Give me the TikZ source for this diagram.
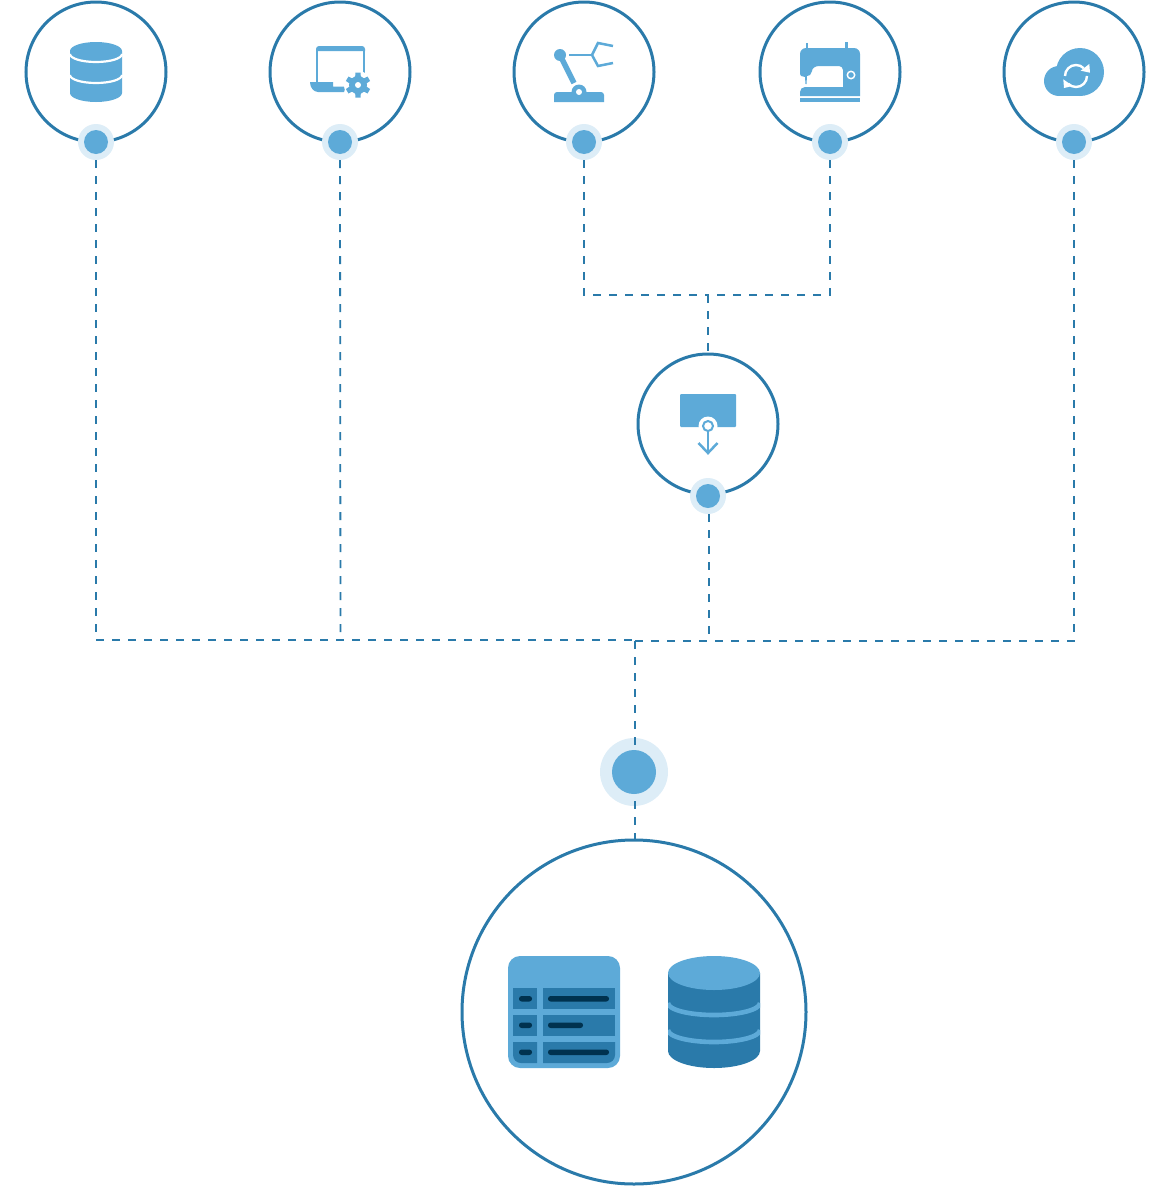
\documentclass[tikz,border=0pt]{standalone}
\usepackage{tikz}
\usetikzlibrary{calc}
\definecolor{RingBlue}{HTML}{2A7AAA}
\definecolor{IconBlue}{HTML}{5DAAD8}
\definecolor{HaloBlue}{HTML}{DDEDF7}
\definecolor{PillNavy}{HTML}{00324F}
\tikzset{
  ring/.style={circle,draw=RingBlue,line width=3pt,fill=white,minimum size=140pt,inner sep=0pt},
  bigRing/.style={ring,minimum size=344pt},
  halo/.style={circle,fill=HaloBlue,minimum size=36pt,inner sep=0pt},
  dot/.style={circle,fill=IconBlue,minimum size=24pt,inner sep=0pt},
  bigHalo/.style={halo,minimum size=68pt},
  bigDot/.style={dot,minimum size=44pt},
  link/.style={draw=RingBlue,line width=1.8pt,dash pattern=on 8pt off 8pt},
  iconFill/.style={fill=IconBlue},
  iconLine/.style={draw=IconBlue,line width=2.5pt},
  iconCut/.style={draw=white,line width=2.2pt}
}
\begin{document}
\begin{tikzpicture}[x=1pt,y=-1pt]
  \useasboundingbox (0,0) rectangle (1170,1186);
  \node[ring] (store) at (96,72) {};
  \node[ring] (laptop) at (340,72) {};
  \node[ring] (robot) at (584,72) {};
  \node[ring] (sewing) at (830,72) {};
  \node[ring] (cloud) at (1074,72) {};
  \node[ring] (hoist) at (708,424) {};
  \node[bigRing] (central) at (634,1012) {};
  \node[halo] (storeHalo) at (96,142) {};
  \node[halo] (laptopHalo) at (340,142) {};
  \node[halo] (robotHalo) at (584,142) {};
  \node[halo] (sewingHalo) at (830,142) {};
  \node[halo] (cloudHalo) at (1074,142) {};
  \node[halo] (hoistHalo) at (708,496) {};
  \node[bigHalo] (centralHalo) at (634,772) {};
  \coordinate (leftBus) at (96,640);
  \coordinate (laptopBus) at (340.5,640);
  \coordinate (mergeTop) at (708,295);
  \coordinate (busMid) at (635,640);
  \coordinate (busMidR) at (635,641);
  \coordinate (hoistBus) at (709,641);
  \coordinate (rightBus) at (1074,641);
  % two upper machines join above the hoist
  \draw[link] (robotHalo.south) |- (mergeTop);
  \draw[link] (sewingHalo.south) |- (mergeTop);
  \draw[link] (mergeTop) -- (hoist.north);
  % everything else runs down to the bus
  \draw[link] (storeHalo.south) -- (leftBus) -- (busMid);
  \draw[link] (laptopHalo.south) -- (laptopBus);
  \draw[link] (hoistHalo.south-|hoistBus) -- (hoistBus);
  \draw[link] (cloudHalo.south) -- (rightBus) -- (busMidR);
  \draw[link] (busMidR) -- (central.north-|busMidR);
  \node[dot] (storeDot) at (storeHalo) {};
  \node[dot] (laptopDot) at (laptopHalo) {};
  \node[dot] (robotDot) at (robotHalo) {};
  \node[dot] (sewingDot) at (sewingHalo) {};
  \node[dot] (cloudDot) at (cloudHalo) {};
  \node[dot] (hoistDot) at (hoistHalo) {};
  \node[bigDot] (centralDot) at (centralHalo) {};
  % database
  \fill[iconFill] (70,51) -- (70,93) arc[start angle=180,end angle=360,x radius=26pt,y radius=9pt] -- (122,51) arc[start angle=0,end angle=180,x radius=26pt,y radius=9pt] -- cycle;
  \draw[iconCut] (70,54) arc[start angle=180,end angle=360,x radius=26pt,y radius=8pt];
  \draw[iconCut] (70,75) arc[start angle=180,end angle=360,x radius=26pt,y radius=8pt];
  % laptop and gear
  \fill[iconFill] (316,51) -- (316,49) arc[start angle=180,end angle=90,radius=3pt] -- (362,46) arc[start angle=90,end angle=0,radius=3pt] -- (365,51) -- cycle;
  \draw[draw=IconBlue,line width=1.6pt] (316.8,50) -- (316.8,82);
  \draw[draw=IconBlue,line width=1.6pt] (364.2,50) -- (364.2,76);
  \fill[iconFill] (310,82) -- (333,82) -- (333,86.5) -- (346,86.5) -- (344,92) -- (318,92) arc[start angle=270,end angle=180,x radius=8pt,y radius=10pt] -- cycle;
  \fill[white] (358,85) circle[radius=14pt];
  \foreach \a in {0,60,120,180,240,300}{
    \fill[iconFill,shift={(358,85)},rotate=\a] (-2.6,-12.5) -- (2.6,-12.5) -- (3.2,0) -- (-3.2,0) -- cycle;
  }
  \fill[iconFill] (358,85) circle[radius=9pt];
  \fill[white] (358,85) circle[radius=3pt];
  % robot arm
  \fill[iconFill] (560,55) circle[radius=6pt];
  \draw[draw=IconBlue,line width=5.5pt] (561,57) -- (574,83);
  \fill[iconFill] (554,102) -- (554,95) arc[start angle=180,end angle=90,radius=3pt] -- (601,92) arc[start angle=90,end angle=0,radius=3pt] -- (604,102) -- cycle;
  \fill[iconFill] (579,92) circle[radius=7.5pt];
  \fill[white] (579,92) circle[radius=3pt];
  \draw[iconLine] (569,55) -- (592,55);
  \draw[iconLine] (613,46) -- (598,43) -- (592,55) -- (598,66) -- (613,63);
  % sewing machine
  \draw[draw=IconBlue,line width=1.6pt] (807,43) -- (807,49);
  \draw[draw=IconBlue,line width=3pt] (846.5,42) -- (846.5,49);
  \fill[iconFill] (800,74) -- (800,54) arc[start angle=180,end angle=90,radius=6pt] -- (854,48) arc[start angle=90,end angle=0,radius=6pt] -- (860,96) -- (800,96) -- (800,92) arc[start angle=180,end angle=90,radius=5pt] -- (843,87) -- (843,70) arc[start angle=0,end angle=90,radius=4pt] -- (819,66) arc[start angle=90,end angle=180,x radius=7pt,y radius=5pt] -- (810,75) -- (807,76) -- (806.5,84) -- (805.5,84) -- (805,77) -- (801,76) -- cycle;
  \fill[iconFill] (800,98) rectangle (860,102);
  \fill[white] (851,75) circle[radius=4.5pt];
  \fill[iconFill] (851,75) circle[radius=2.8pt];
  % cloud with sync arrows
  \fill[iconFill] (1080,72) circle[radius=24pt];
  \fill[iconFill] (1059,81) circle[radius=15pt];
  \fill[iconFill] (1059,84) rectangle (1080,96);
  \draw[draw=white,line width=2.4pt] (1065,76) arc[start angle=180,end angle=45,radius=11pt];
  \draw[draw=white,line width=2.4pt] (1087,76) arc[start angle=0,end angle=-135,radius=11pt];
  \fill[white] (1089.3,64) -- (1090,72.7) -- (1080.7,70.7) -- cycle;
  \fill[white] (1063.3,79.3) -- (1064,88) -- (1072.7,86) -- cycle;
  % hoist
  \fill[iconFill,rounded corners=1pt] (680,394) rectangle (736,427);
  \fill[white] (708,426) circle[radius=9.5pt];
  \draw[draw=IconBlue,fill=white,line width=2pt] (708,426) circle[radius=5pt];
  \draw[iconLine] (708,431) -- (708,453);
  \draw[iconLine] (698.5,443) -- (708,453) -- (717.5,443);
  % table
  \fill[iconFill,rounded corners=12pt] (508,956) rectangle (620,1068);
  \fill[RingBlue] (513,988) rectangle (537,1009);
  \fill[RingBlue] (543,988) rectangle (615,1009);
  \fill[RingBlue] (513,1015) rectangle (537,1036);
  \fill[RingBlue] (543,1015) rectangle (615,1036);
  \fill[RingBlue] (513,1042) -- (537,1042) -- (537,1063) -- (521,1063) arc[start angle=270,end angle=180,radius=8pt] -- cycle;
  \fill[RingBlue] (543,1042) -- (615,1042) -- (615,1055) arc[start angle=0,end angle=-90,radius=8pt] -- (543,1063) -- cycle;
  \fill[PillNavy,rounded corners=2.6pt] (519,996) rectangle (532,1001.5);
  \fill[PillNavy,rounded corners=2.6pt] (548,996) rectangle (609,1001.5);
  \fill[PillNavy,rounded corners=2.6pt] (519,1022.5) rectangle (532,1028);
  \fill[PillNavy,rounded corners=2.6pt] (548,1022.5) rectangle (583,1028);
  \fill[PillNavy,rounded corners=2.6pt] (519,1049.5) rectangle (532,1055);
  \fill[PillNavy,rounded corners=2.6pt] (548,1049.5) rectangle (609,1055);
  % cylinder
  \fill[RingBlue] (668,973) -- (668,1051) arc[start angle=180,end angle=360,x radius=46pt,y radius=17pt] -- (760,973) -- cycle;
  \begin{scope}
    \clip (668,973) rectangle (760,1068);
    \draw[draw=IconBlue,line width=4.6pt] (668,1003) arc[start angle=180,end angle=360,x radius=46pt,y radius=12pt];
    \draw[draw=IconBlue,line width=4.6pt] (668,1030) arc[start angle=180,end angle=360,x radius=46pt,y radius=12pt];
  \end{scope}
  \fill[iconFill] (714,973) ellipse[x radius=46pt,y radius=17pt];
\end{tikzpicture}
\end{document}
